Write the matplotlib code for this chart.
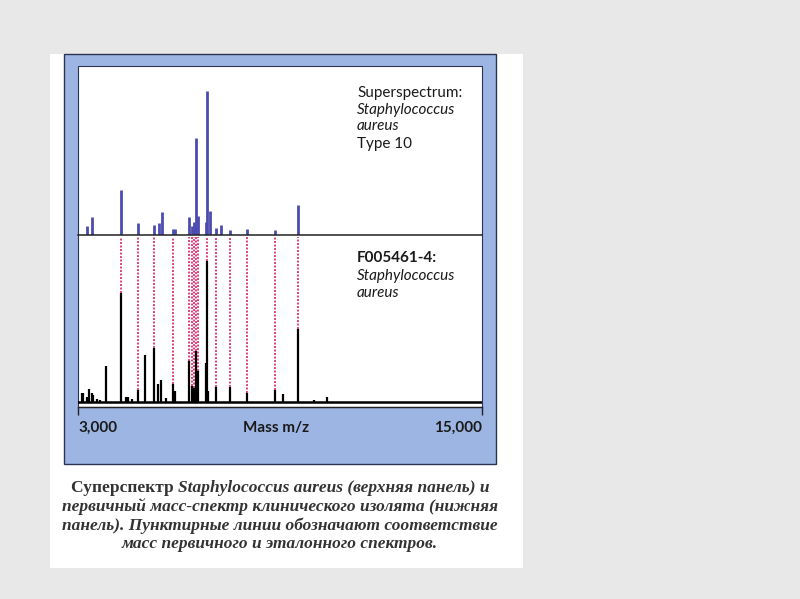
import matplotlib
matplotlib.use('Agg')
import matplotlib.pyplot as plt
from matplotlib.patches import Rectangle

# superspectrum peaks (top panel), m/z and relative intensity
top_mz = [3258, 3425, 4268, 4773, 5248, 5397, 5486, 5813, 5881, 6306, 6377, 6445,
          6505, 6564, 6793, 6822, 6929, 7107, 7256, 7505, 8010, 8842, 9535]
top_int = [9, 18, 45, 12, 10, 12, 23, 6, 6, 18, 9, 13,
           97, 19, 13, 144, 24, 7, 10, 5, 6, 5, 30]

# clinical isolate spectrum (bottom panel)
bot_mz = [3110, 3157, 3258, 3336, 3407, 3454, 3564, 3653, 3832, 4268, 4426, 4494,
          4595, 4773, 4990, 5248, 5367, 5465, 5605, 5813, 5881, 6306, 6377, 6445,
          6505, 6564, 6793, 6822, 6870, 7107, 7505, 8010, 8842, 9080, 9535, 10019, 10387]
bot_int = [9, 9, 5, 13, 9, 7, 3, 2, 36, 109, 5, 5,
           3, 12, 47, 54, 18, 22, 4, 18, 11, 41, 16, 14,
           51, 31, 39, 141, 11, 15, 15, 9, 12, 8, 73, 2, 5]

# masses matched between the two spectra (dotted lines)
matched_mz = [4268, 4773, 5248, 5813, 6306, 6377, 6445, 6505, 6564, 6822,
              7107, 7505, 8010, 8842, 9535]

W, H = 800, 599


def fx(px):
    return px / W


def fy(py):
    return 1 - py / H


fig = plt.figure(figsize=(8.0, 5.99), dpi=100)
fig.patch.set_facecolor('#e8e8e8')

# white card and blue frame
fig.patches.append(Rectangle((fx(50), fy(568)), 473 / W, 514 / H, transform=fig.transFigure,
                             facecolor='white', edgecolor='none', zorder=0))
fig.patches.append(Rectangle((fx(64), fy(464)), 432 / W, 410 / H, transform=fig.transFigure,
                             facecolor='#9db5e3', edgecolor='#2b3350', lw=1.0, zorder=0))
fig.patches.append(Rectangle((fx(78), fy(407)), 404 / W, 341 / H, transform=fig.transFigure,
                             facecolor='white', edgecolor='#2b3350', lw=0.8, zorder=0))

# top panel
ax1 = fig.add_axes([fx(78), fy(235), 404 / W, (235 - 66) / H])
ax1.set_zorder(3)
ax1.patch.set_alpha(0)
ax1.vlines(top_mz, 0, top_int, colors='#4c4cb0', lw=2.0)
ax1.set_xlim(3000, 15000)
ax1.set_ylim(0, 169)
for s in ['top', 'left', 'right']:
    ax1.spines[s].set_visible(False)
ax1.spines['bottom'].set_color('#222222')
ax1.spines['bottom'].set_linewidth(1.1)
ax1.set_xticks([])
ax1.set_yticks([])

# bottom panel
ax2 = fig.add_axes([fx(78), fy(407), 404 / W, (407 - 235) / H])
ax2.set_zorder(3)
ax2.patch.set_alpha(0)
heights = dict(zip(bot_mz, bot_int))
ax2.vlines(matched_mz, [heights[m] for m in matched_mz], 165, colors='#e0407c',
           lw=1.4, linestyles=(0, (1, 0.8)))
ax2.vlines(bot_mz, 0, bot_int, colors='black', lw=1.6)
ax2.axhline(0, color='black', lw=1.8)
ax2.set_xlim(3000, 15000)
ax2.set_ylim(-5, 167)
for s in ['top', 'left', 'right']:
    ax2.spines[s].set_visible(False)
ax2.spines['bottom'].set_color('#222222')
ax2.spines['bottom'].set_linewidth(1.0)
ax2.set_xticks([3000, 15000])
ax2.set_xticklabels(['', ''])
ax2.tick_params(axis='x', direction='out', length=6, width=1.0, color='#222222')
ax2.set_yticks([])

# panel labels
lab = dict(fontfamily='Lato', fontsize=11, color='#1a1a1a', va='baseline', ha='left')
fig.text(fx(357), fy(97), 'Superspectrum:', **lab)
fig.text(fx(357), fy(114), 'Staphylococcus', style='italic', **lab)
fig.text(fx(357), fy(130), 'aureus', style='italic', **lab)
fig.text(fx(357), fy(148), 'Type 10', **lab)
fig.text(fx(357), fy(262), 'F005461-4:', weight='bold', **lab)
fig.text(fx(357), fy(280), 'Staphylococcus', style='italic', **lab)
fig.text(fx(357), fy(297), 'aureus', style='italic', **lab)

# axis labels
ax_lab = dict(fontfamily='Lato', fontsize=11, weight='bold', color='#1a1a1a', va='baseline')
fig.text(fx(78), fy(432), '3,000', ha='left', **ax_lab)
fig.text(fx(276), fy(432), 'Mass m/z', ha='center', **ax_lab)
fig.text(fx(482), fy(432), '15,000', ha='right', **ax_lab)

# caption
cap = dict(fontfamily='Liberation Serif', fontsize=12.5, weight='bold', color='#333333',
           va='baseline')
renderer = fig.canvas.get_renderer()
t1 = fig.text(0, fy(492), 'Суперспектр ', ha='left', **cap)
t2 = fig.text(0, fy(492), 'Staphylococcus aureus (верхняя панель) и', ha='left',
              style='italic', **cap)
w1 = t1.get_window_extent(renderer).width
w2 = t2.get_window_extent(renderer).width
x0 = 280 - (w1 + w2) / 2
t1.set_x(fx(x0))
t2.set_x(fx(x0 + w1))
lines = ['первичный масс-спектр клинического изолята (нижняя',
         'панель). Пунктирные линии обозначают соответствие',
         'масс первичного и эталонного спектров.']
for i, ln in enumerate(lines):
    fig.text(fx(280), fy(511 + 18.7 * i), ln, ha='center', style='italic', **cap)

fig.savefig('out.png', dpi=100, facecolor=fig.get_facecolor())
